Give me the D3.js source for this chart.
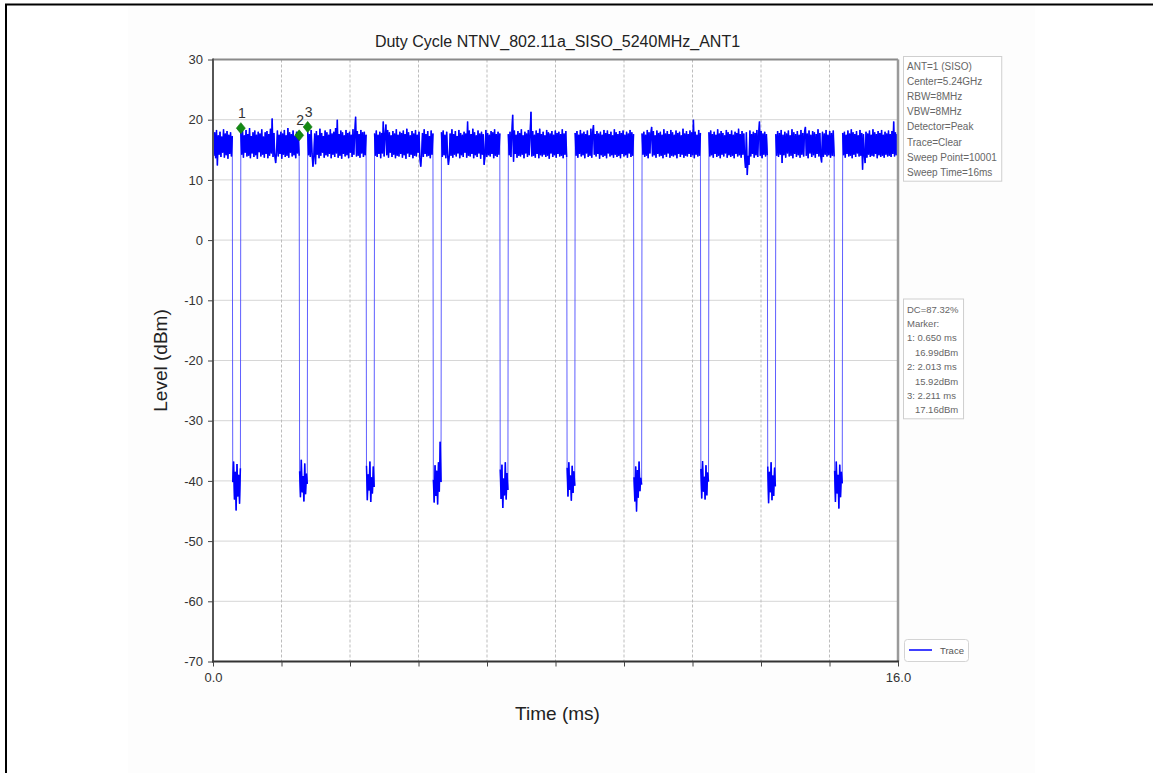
<!DOCTYPE html>
<html><head><meta charset="utf-8">
<script src="https://cdn.jsdelivr.net/npm/d3@7"></script>
<style>body{margin:0;background:#fff}svg{display:block;font-family:"Liberation Sans",Arial,sans-serif}</style>
</head><body><svg id="c" width="1153" height="773"></svg>
<script>
// ---------- data ----------
const chartTitle = "Duty Cycle NTNV_802.11a_SISO_5240MHz_ANT1";
const xLabel = "Time (ms)";
const yLabel = "Level (dBm)";
const yTicks = [-70, -60, -50, -40, -30, -20, -10, 0, 10, 20, 30];
const xTicks = [0, 1.6, 3.2, 4.8, 6.4, 8.0, 9.6, 11.2, 12.8, 14.4, 16.0];
const xTickLabels = ["0.0", "", "", "", "", "", "", "", "", "", "16.0"];

// transmission-off gaps (ms)
const gapStart = [0.451, 2.013, 3.575, 5.137, 6.699, 8.261, 9.823, 11.385, 12.947, 14.509];
const gapEnd   = [0.650, 2.212, 3.774, 5.336, 6.898, 8.460, 10.022, 11.584, 13.146, 14.708];

// trace levels (dBm) inside each burst, sampled along the burst
const burstLevels = [
 [17.6,14.0,17.9,13.6,18.3,12.4,17.4,14.2,18.0,13.8,17.2,14.5,18.4,13.7,17.7,14.1,18.1,13.5,17.5,14.3,17.9,13.9,17.3],
 [17.8,14.2,18.1,13.7,17.4,14.5,18.3,13.9,17.6,14.0,18.6,13.6,17.3,14.4,17.9,13.8,18.2,14.1,17.5,13.5,18.0,14.6,17.7,13.9,18.4,14.2,17.2,13.7,17.9,14.3,18.1,13.6,17.6,14.0,18.5,14.4,20.2,13.8,17.8,14.1,12.8,14.6,18.2,13.9,17.5,14.3,18.0,13.5,17.7,14.2,18.3,13.8,17.4,14.0,18.6,13.7,17.9,14.5,17.6,13.9,18.2,14.1,17.3,13.6,18.0,14.4,17.8,14.0],
 [18.0,14.1,17.6,13.8,18.3,14.4,12.2,13.9,17.7,12.6,18.1,14.2,17.4,13.6,18.5,14.0,17.8,14.5,17.3,13.7,18.2,14.1,17.9,13.9,17.5,14.3,18.4,13.6,17.7,14.2,18.0,13.8,18.6,14.4,20.0,13.7,17.6,14.0,18.2,13.5,17.9,14.3,17.4,13.9,18.3,14.1,17.8,13.6,18.0,14.5,17.5,13.8,18.4,14.2,17.7,20.5,13.9,18.1,14.0,17.6,13.7,18.3,14.4,17.9,13.8,18.0,14.1,17.5],
 [17.7,14.0,18.2,13.8,17.5,14.3,18.0,13.6,17.8,14.4,19.7,13.9,17.6,19.2,14.1,18.3,13.7,17.9,14.5,17.4,13.8,18.1,14.2,17.7,13.6,18.4,14.0,17.5,13.9,18.0,14.3,17.8,13.7,18.2,14.1,17.6,13.5,18.5,14.4,17.9,13.8,17.4,14.2,18.1,13.6,17.7,14.0,18.3,13.9,17.5,14.5,18.0,13.7,12.2,14.1,17.8,13.8,18.4,14.3,17.6,13.9,18.1,14.0,17.3,13.6,18.2,14.2,17.7],
 [17.9,13.8,18.2,14.1,17.5,13.6,18.0,14.3,12.5,13.9,17.7,14.0,18.4,13.7,17.6,14.2,18.1,13.9,17.3,14.4,18.3,13.6,17.8,14.1,17.5,13.8,18.0,14.5,17.7,13.7,19.7,14.0,18.2,13.9,17.6,14.3,18.5,13.6,17.9,14.1,17.4,13.8,18.2,14.4,17.7,13.5,18.0,14.2,17.6,12.5,14.0,18.3,13.8,17.8,14.1,17.5,13.9,18.1,14.3,17.9,13.6,18.4,14.0,17.6,13.8,18.0,14.2,17.7],
 [17.6,14.1,18.0,13.8,17.7,20.8,13.0,18.2,14.3,17.5,13.7,18.1,14.0,17.8,13.9,18.4,14.2,17.4,13.6,18.0,14.4,17.7,13.8,18.3,14.1,17.6,21.3,13.9,18.1,14.0,17.5,13.7,18.2,14.3,17.8,13.6,18.5,14.1,17.6,13.9,18.0,14.2,17.4,13.8,18.3,14.0,17.9,13.5,17.7,14.4,18.1,13.8,17.5,14.1,18.2,13.7,17.8,14.3,18.0,13.9,17.6,14.0,18.4,13.6,17.7,14.2,18.1,13.8],
 [17.8,14.0,18.1,13.7,17.5,14.3,18.3,13.9,17.7,14.1,18.0,13.6,17.6,14.4,18.2,13.8,17.4,14.0,18.5,13.7,17.9,19.1,14.2,17.6,13.9,18.1,14.3,17.7,13.5,18.0,14.1,17.5,13.8,18.3,14.0,17.8,13.6,18.2,14.4,17.6,13.9,18.0,14.1,17.4,13.7,18.4,14.2,17.9,13.8,17.6,14.0,18.1,13.6,17.8,14.3,18.2,13.9,17.5,14.1,18.0,13.7,17.7,14.4,18.3,13.8,17.9,14.0,17.6],
 [17.7,14.2,18.0,13.8,17.5,14.0,18.3,13.6,17.9,14.4,17.6,18.8,13.9,18.1,14.1,17.4,13.7,18.2,14.3,17.8,13.9,18.0,14.0,17.5,13.6,18.4,14.2,17.7,13.8,18.1,14.4,17.6,13.7,18.3,14.0,17.9,13.9,17.5,14.1,18.2,13.6,17.8,14.3,18.0,13.8,17.4,14.2,18.5,13.7,17.7,14.0,18.1,13.9,17.6,14.3,18.2,13.8,17.9,14.1,20.0,13.6,18.0,14.2,17.5,13.9,18.3,14.0,17.8],
 [17.9,13.9,18.2,14.1,17.6,13.7,18.0,14.3,17.5,13.8,18.4,14.0,17.7,13.6,18.1,14.2,17.8,13.9,17.4,14.4,18.3,13.7,17.9,14.1,17.6,13.8,18.2,14.0,17.5,13.6,18.0,14.3,17.8,13.9,18.5,14.1,17.6,13.7,18.1,14.2,17.7,13.8,12.0,17.9,10.8,14.0,12.5,18.2,13.9,17.6,14.3,18.0,13.7,17.8,14.1,18.3,13.8,17.5,19.7,14.0,18.1,13.6,17.7,14.2,18.0,13.9,17.6,14.1],
 [17.6,14.0,18.1,13.8,17.8,14.2,18.3,12.8,17.5,14.1,18.0,13.7,17.7,14.4,18.2,13.9,17.4,14.0,18.4,13.6,17.9,14.3,17.6,13.8,18.1,14.1,17.5,13.7,18.3,14.2,17.8,13.9,18.0,18.8,14.0,17.7,13.6,18.2,14.4,17.5,13.8,18.1,14.1,17.9,13.7,17.6,14.3,18.4,13.9,17.8,14.0,12.9,18.0,13.8,17.7,14.2,18.3,13.9,17.5,14.1,18.1,13.7,17.8,14.0,18.2,13.9],
 [17.8,14.1,18.0,13.7,17.5,14.3,18.2,13.9,17.7,14.0,18.4,13.6,17.9,14.2,17.6,13.8,18.1,14.4,17.4,13.9,18.3,14.0,17.8,11.7,17.6,14.1,12.8,18.0,13.7,17.7,14.2,18.2,13.8,17.5,14.0,18.4,13.9,17.9,14.3,17.6,13.6,18.1,14.1,17.8,13.8,18.3,14.0,17.5,13.7,18.0,14.2,17.7,13.9,18.2,14.0,17.6,13.8,18.1,14.3,19.7,13.9,17.9,14.1,17.6,14.0]
];

// trace levels (dBm) inside each off-gap
const gapLevels = [
 [-40.2,-36.8,-43.1,-38.5,-44.9,-37.2,-42.6,-39.0,-43.8,-37.9],
 [-38.4,-42.7,-36.5,-41.9,-39.2,-43.4,-37.1,-42.2,-38.8,-40.5],
 [-37.5,-43.2,-38.9,-41.6,-36.8,-43.5,-39.4,-42.1,-37.6,-41.0],
 [-39.8,-43.6,-37.4,-42.5,-38.3,-43.9,-36.9,-41.8,-33.5,-40.2],
 [-38.1,-43.0,-37.3,-44.5,-39.6,-42.4,-36.9,-43.1,-38.7,-41.5],
 [-37.8,-42.6,-36.9,-41.5,-39.1,-43.3,-37.5,-42.0,-38.4,-40.8],
 [-39.4,-43.4,-37.6,-45.1,-38.2,-42.8,-36.8,-41.7,-39.5,-40.6],
 [-38.0,-42.9,-36.7,-41.8,-39.3,-43.1,-37.4,-42.4,-38.6,-40.1],
 [-37.6,-43.7,-38.5,-41.9,-36.9,-43.2,-39.1,-42.5,-37.8,-40.9],
 [-38.3,-43.5,-36.8,-42.1,-39.0,-44.6,-37.3,-42.7,-38.5,-40.4]
];

// markers as drawn (time ms, level dBm) and their labels
const markerNames = ["1", "2", "3"];
const markerTimes = [0.650, 2.013, 2.211];
const markerLevels = [18.6, 17.4, 18.8];

const infoLines = ["ANT=1 (SISO)", "Center=5.24GHz", "RBW=8MHz", "VBW=8MHz", "Detector=Peak", "Trace=Clear", "Sweep Point=10001", "Sweep Time=16ms"];
const dcLines = ["DC=87.32%", "Marker:", "1: 0.650 ms", "   16.99dBm", "2: 2.013 ms", "   15.92dBm", "3: 2.211 ms", "   17.16dBm"];
const legendLabels = ["Trace"];

// ---------- drawing ----------
const svg = d3.select("#c");
const L = 213, R = 898, T = 59.5, B = 661.5;
const x = d3.scaleLinear().domain([0, 16]).range([L, R]);
const y = d3.scaleLinear().domain([-70, 30]).range([B, T]);

// page frame
svg.append("rect").attr("x", 128).attr("y", 6).attr("width", 907).attr("height", 767).attr("fill", "#fdfdfd");
svg.append("line").attr("x1", 5).attr("x2", 1153).attr("y1", 4.5).attr("y2", 4.5).attr("stroke", "#000").attr("stroke-width", 2);
svg.append("line").attr("x1", 6).attr("x2", 6).attr("y1", 4).attr("y2", 773).attr("stroke", "#000").attr("stroke-width", 2);

svg.append("rect").attr("x", L).attr("y", T).attr("width", R - L).attr("height", B - T).attr("fill", "#fff");

// grid
svg.append("g").selectAll("line").data(yTicks).join("line")
  .attr("x1", L).attr("x2", R).attr("y1", d => y(d)).attr("y2", d => y(d))
  .attr("stroke", "#d6d6d6").attr("stroke-width", 1);
svg.append("g").selectAll("line").data(xTicks).join("line")
  .attr("x1", d => x(d)).attr("x2", d => x(d)).attr("y1", T).attr("y2", B)
  .attr("stroke", "#bdbdbd").attr("stroke-width", 1).attr("stroke-dasharray", "3,2");

// build trace points (bursts and gaps as separate pieces, then joined)
const pieces = [];
for (let k = 0; k < burstLevels.length; k++) {
  const s = k === 0 ? 0 : gapEnd[k - 1];
  const e = k === burstLevels.length - 1 ? 16 : gapStart[k];
  const v = burstLevels[k];
  pieces.push(v.map((lv, j) => [s + j * (e - s) / (v.length - 1), lv]));
  if (k < gapLevels.length) {
    const g = gapLevels[k];
    const gs = gapStart[k] + 0.01, ge = gapEnd[k] - 0.01;
    pieces.push(g.map((lv, j) => [gs + j * (ge - gs) / (g.length - 1), lv]));
  }
}
const pts = pieces.flat();
svg.append("clipPath").attr("id", "clip").append("rect").attr("x", L).attr("y", T).attr("width", R - L).attr("height", B - T);
const line = d3.line().x(d => x(d[0])).y(d => y(d[1]));
const tr = svg.append("g").attr("clip-path", "url(#clip)");
// whole connected trace (thin, gives the on/off edges)
tr.append("path").datum(pts).attr("d", line).attr("fill", "none")
  .attr("stroke", "#4d4dff").attr("stroke-width", 0.9);
// dense parts of the trace
tr.selectAll("path.piece").data(pieces).join("path").attr("class", "piece")
  .attr("d", line).attr("fill", "none").attr("stroke", "#0000ff")
  .attr("stroke-width", 1.5).attr("stroke-linejoin", "bevel");

// markers
const mk = svg.append("g");
markerTimes.forEach((t, i) => {
  const cx = x(t), cy = y(markerLevels[i]);
  mk.append("path").attr("d", `M${cx},${cy - 5.5}L${cx + 4.5},${cy}L${cx},${cy + 5.5}L${cx - 4.5},${cy}Z`)
    .attr("fill", "#138a13").attr("stroke", "#0d6e0d").attr("stroke-width", 0.6);
  mk.append("text").attr("x", cx + 1).attr("y", cy - 10).attr("text-anchor", "middle")
    .attr("font-size", 14).attr("fill", "#333").text(markerNames[i]);
});

// spines
svg.append("line").attr("x1", L).attr("x2", R).attr("y1", T).attr("y2", T).attr("stroke", "#8a8a8a").attr("stroke-width", 2);
svg.append("line").attr("x1", R).attr("x2", R).attr("y1", T).attr("y2", B).attr("stroke", "#9a9a9a").attr("stroke-width", 2.5);
svg.append("line").attr("x1", L).attr("x2", L).attr("y1", T - 1).attr("y2", B + 1).attr("stroke", "#555").attr("stroke-width", 2);
svg.append("line").attr("x1", L - 1).attr("x2", R + 1).attr("y1", B).attr("y2", B).attr("stroke", "#333").attr("stroke-width", 2);

// axes
const yAx = svg.append("g").attr("transform", `translate(${L},0)`)
  .call(d3.axisLeft(y).tickValues(yTicks).tickSize(5).tickPadding(5).tickFormat(d => String(d)));
yAx.select(".domain").remove();
yAx.selectAll("text").attr("font-size", 13).attr("fill", "#333").attr("font-family", '"Liberation Sans",Arial,sans-serif');
yAx.selectAll("line").attr("stroke", "#444");
const xAx = svg.append("g").attr("transform", `translate(0,${B})`)
  .call(d3.axisBottom(x).tickValues(xTicks).tickSize(5).tickPadding(6).tickFormat((d, i) => xTickLabels[i]));
xAx.select(".domain").remove();
xAx.selectAll("text").attr("font-size", 13).attr("fill", "#333").attr("font-family", '"Liberation Sans",Arial,sans-serif');
xAx.selectAll("line").attr("stroke", "#444");

// titles
svg.append("text").attr("x", (L + R) / 2 + 2).attr("y", 47).attr("text-anchor", "middle")
  .attr("font-size", 16).attr("fill", "#222").text(chartTitle);
svg.append("text").attr("x", (L + R) / 2 + 2).attr("y", 720).attr("text-anchor", "middle")
  .attr("font-size", 19).attr("fill", "#222").text(xLabel);
svg.append("text").attr("transform", `translate(167,${(T + B) / 2}) rotate(-90)`).attr("text-anchor", "middle")
  .attr("font-size", 19).attr("fill", "#222").text(yLabel);

// info boxes
function infoBox(lines, x0, yFirst, step, fs) {
  const g = svg.append("g");
  const rect = g.append("rect").attr("fill", "#fff").attr("stroke", "#cfcfcf").attr("stroke-width", 1);
  const tg = g.append("g");
  lines.forEach((s, i) => tg.append("text").attr("x", x0 + 4).attr("y", yFirst + i * step)
    .attr("font-size", fs).attr("fill", "#666").attr("xml:space", "preserve").style("white-space", "pre").text(s));
  const bb = tg.node().getBBox();
  rect.attr("x", x0 + 0.5).attr("y", bb.y - 4.5).attr("width", bb.width + 8).attr("height", bb.height + 8);
}
infoBox(infoLines, 903, 70, 15.1, 10);
infoBox(dcLines, 903, 312.5, 14.4, 9.5);

// legend
const lg = svg.append("g");
lg.append("rect").attr("x", 904.5).attr("y", 639.5).attr("width", 64).attr("height", 22).attr("rx", 3)
  .attr("fill", "#fff").attr("stroke", "#d4d4d4");
lg.append("line").attr("x1", 909).attr("x2", 932).attr("y1", 650).attr("y2", 650).attr("stroke", "#0000ff").attr("stroke-width", 1.5);
lg.append("text").attr("x", 940).attr("y", 653.5).attr("font-size", 9.5).attr("fill", "#555").text(legendLabels[0]);
</script></body></html>
